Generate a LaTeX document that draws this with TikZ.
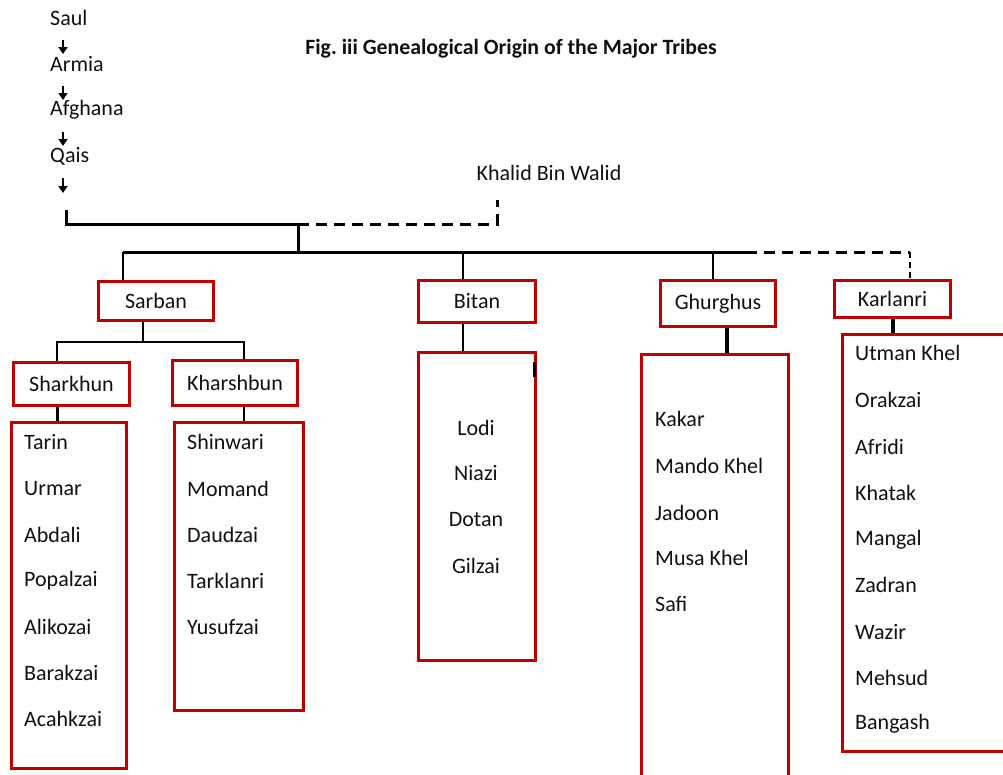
\documentclass[tikz,border=0pt]{standalone}
\usepackage{fontspec}
\setmainfont{Carlito}
\usetikzlibrary{arrows.meta}
\definecolor{boxred}{HTML}{C00000}
\definecolor{ink}{HTML}{111111}
\frenchspacing
\begin{document}
\begin{tikzpicture}[x=1pt,y=-1pt,
  every node/.style={text=ink,font=\fontsize{22}{26}\selectfont},
  redbox/.style={draw=boxred,line width=3pt,fill=white,inner sep=0pt},
  item/.style={anchor=west,inner sep=0pt},
  link/.style={draw=black,line width=3pt},
  dlink/.style={draw=black,line width=3pt,dash pattern=on 11pt off 7pt},
  tlink/.style={draw=black,line width=1.5pt,dash pattern=on 6pt off 4pt},
  arr/.style={draw=black,line width=2.5pt,-{Triangle[width=9pt,length=7pt]}}]
\useasboundingbox (0,0) rectangle (1003,774);
\clip (0,0) rectangle (1003,774);
% title
\node (title) at (511,49) {\fontsize{21.8}{26}\selectfont\bfseries Fig.\ iii Genealogical Origin of the Major Tribes};
% ancestry chain
\node[item] (saul) at (50,18) {Saul};
\node[item] (armia) at (50,64) {Armia};
\node[item] (afghana) at (50,110) {Afghana};
\node[item] (qais) at (50,156) {Qais};
\coordinate (ax) at (63,0);
\coordinate (qend) at (63,193);
\draw[arr] ([yshift=-22pt]saul.center -| ax) -- ([yshift=10pt]armia.center -| ax);
\draw[arr] ([yshift=-22pt]armia.center -| ax) -- ([yshift=10pt]afghana.center -| ax);
\draw[arr] ([yshift=-22pt]afghana.center -| ax) -- ([yshift=10pt]qais.center -| ax);
\draw[arr] ([yshift=-22pt]qais.center -| ax) -- (qend);
\node (khalid) at (549,173) {Khalid Bin Walid};
% top bracket
\coordinate (br) at (66,210);
\coordinate (j1) at (298,224);
\coordinate (kh) at (497,200);
\coordinate (m0) at (298,252);
\draw[link] (br) |- (j1);
\draw[dlink] (j1) -| (kh);
\draw[link] (j1) -- (m0);
% tribes
\node[redbox,minimum width=115pt,minimum height=39pt] (sarban) at (156,301) {Sarban};
\node[redbox,minimum width=117pt,minimum height=42pt] (bitan) at (477,301.5) {Bitan};
\node[redbox,minimum width=115pt,minimum height=46pt] (ghurghus) at (718,303.5) {Ghurghus};
\node[redbox,minimum width=116pt,minimum height=37pt] (karlanri) at (892.5,299) {Karlanri};
% main bar
\coordinate (mL) at (123,252);
\coordinate (mB) at (463,252);
\coordinate (mG) at (713,252);
\coordinate (mR) at (746,252);
\coordinate (mK) at (910,252);
\draw[link] (mL) -- (mR);
\draw[dlink] (mR) -- (mK);
\draw[tlink] (mK) -- (mK |- karlanri.north);
\draw[link,line width=2.5pt] (mL) -- (mL |- sarban.north);
\draw[link,line width=2.5pt] (mB) -- (mB |- bitan.north);
\draw[link,line width=2.5pt] (mG) -- (mG |- ghurghus.north);
% Sarban subdivision
\node[redbox,minimum width=116pt,minimum height=43pt] (sharkhun) at (71.5,384) {Sharkhun};
\node[redbox,minimum width=125pt,minimum height=45pt] (kharshbun) at (235,383) {Kharshbun};
\coordinate (sx) at (143,0);
\coordinate (sL) at (57,342);
\coordinate (sR) at (244,342);
\draw[link,line width=2.5pt] (sarban.south -| sx) -- (sx |- sL);
\draw[link,line width=2.5pt] (sL |- sharkhun.north) -- (sL) -- (sR) -- (sR |- kharshbun.north);
% lists
\node[redbox,minimum width=115pt,minimum height=346pt] (shlist) at (69,595.5) {};
\node[redbox,minimum width=129pt,minimum height=288pt] (khlist) at (239,566.5) {};
\node[redbox,minimum width=117pt,minimum height=308pt] (bilist) at (477,506.5) {};
\node[redbox,minimum width=147pt,minimum height=434pt] (ghlist) at (715,571.5) {};
\node[redbox,minimum width=166pt,minimum height=417pt] (kalist) at (925.5,543) {};
\draw[link,line width=3pt] (sharkhun.south -| sL) -- (shlist.north -| sL);
\draw[link,line width=2.5pt] (kharshbun.south -| sR) -- (khlist.north -| sR);
\draw[link,line width=2.5pt] (bitan.south -| mB) -- (bilist.north -| mB);
\coordinate (gx) at (727,0);
\draw[link,line width=4pt] (ghurghus.south -| gx) -- (ghlist.north -| gx);
\coordinate (kx) at (893,0);
\draw[link,line width=4pt] (karlanri.south -| kx) -- (kalist.north -| kx);
\coordinate (tk) at (534.5,362);
\draw[link,line width=2.5pt] (tk) -- ++(0,15);
% Sharkhun items
\node[item] (s1) at (24,442) {Tarin};
\node[item] (s2) at (24,489) {Urmar};
\node[item] (s3) at (24,535) {Abdali};
\node[item] (s4) at (24,581) {Popalzai};
\node[item] (s5) at (24,627) {Alikozai};
\node[item] (s6) at (24,673) {Barakzai};
\node[item] (s7) at (24,719) {Acahkzai};
% Kharshbun items
\node[item] (k1) at (187,442) {Shinwari};
\node[item] (k2) at (187,489) {Momand};
\node[item] (k3) at (187,535) {Daudzai};
\node[item] (k4) at (187,581) {Tarklanri};
\node[item] (k5) at (187,627) {Yusufzai};
% Bitan items
\node (b1) at (476,428) {Lodi};
\node (b2) at (476,473) {Niazi};
\node (b3) at (476,520) {Dotan};
\node (b4) at (476,566) {Gilzai};
% Ghurghus items
\node[item] (g1) at (655,419) {Kakar};
\node[item] (g2) at (655,466) {Mando Khel};
\node[item] (g3) at (655,513) {Jadoon};
\node[item] (g4) at (655,558) {Musa Khel};
\node[item] (g5) at (655,604) {Safi};
% Karlanri items
\node[item] (r1) at (855,353) {Utman Khel};
\node[item] (r2) at (855,400) {Orakzai};
\node[item] (r3) at (855,447) {Afridi};
\node[item] (r4) at (855,493) {Khatak};
\node[item] (r5) at (855,540) {Mangal};
\node[item] (r6) at (855,585) {Zadran};
\node[item] (r7) at (855,632) {Wazir};
\node[item] (r8) at (855,678) {Mehsud};
\node[item] (r9) at (855,724) {Bangash};
\end{tikzpicture}
\end{document}
